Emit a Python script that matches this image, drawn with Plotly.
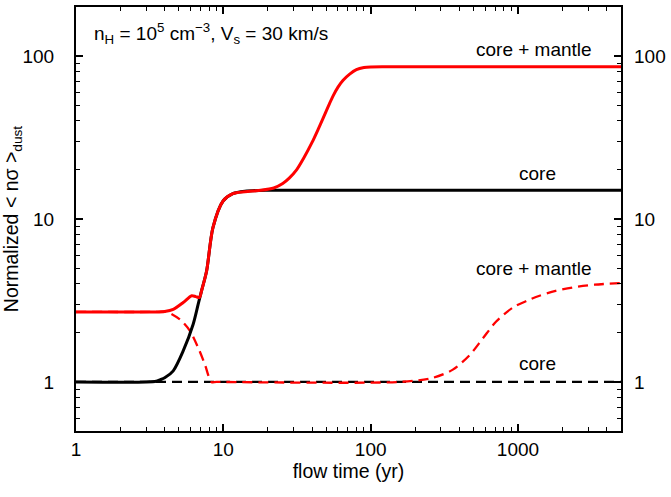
import math
import plotly.graph_objects as go

# ---- data ----
core_solid_t = [1, 3.0, 3.5, 3.71, 4.0, 4.57, 5.34, 6.24, 6.75, 7.1, 7.7, 8.5, 9.96, 11.6, 14, 20, 50, 5000]
core_solid_v = [1.0, 1.0, 1.01, 1.03, 1.06, 1.17, 1.55, 2.26, 3.0, 3.6, 4.8, 8.85, 12.9, 14.3, 14.8, 15.0, 15.0, 15.0]

cm_solid_t = [1, 3.5, 4.0, 4.57, 5.34, 6.1, 6.5, 6.9, 7.1, 7.7, 8.5, 9.96, 11.6, 14, 18, 22, 25.3, 28, 31.4, 35, 40,
              44, 47.5, 52, 55.6, 60, 65, 72, 80, 90, 100, 130, 5000]
cm_solid_v = [2.69, 2.69, 2.71, 2.79, 3.07, 3.38, 3.34, 3.3, 3.6, 4.8, 8.85, 12.9, 14.3, 14.7, 15.0, 15.5, 16.5, 17.8,
              20.0, 23.5, 29.5, 35.5, 41.5, 50.0, 57.0, 64.5, 71.0, 77.5, 82.5, 85.0, 85.8, 86.0, 86.0]

cm_dash_t = [1, 3.5, 4.1, 5.07, 5.93, 6.75, 7.5, 8.3, 9.0, 157, 264, 361, 469, 577, 711, 922, 1150, 1400, 1800,
             2350, 3300, 5000]
cm_dash_v = [2.69, 2.69, 2.70, 2.42, 2.06, 1.62, 1.28, 1.0, 1.0, 1.0, 1.06, 1.19, 1.46, 1.85, 2.35, 2.86, 3.15,
             3.38, 3.62, 3.80, 3.95, 4.05]

core_dash_t = [1, 5000]
core_dash_v = [1.0, 1.0]

major_ticks_x = [1, 10, 100, 1000]
major_labels_x = ["1", "10", "100", "1000"]
major_ticks_y = [1, 10, 100]
major_labels_y = ["1", "10", "100"]

minor_x = [m * 10 ** d for d in range(0, 4) for m in range(2, 10) if m * 10 ** d < 5000]
minor_y = [m * 10 ** d for d in range(-1, 3) for m in range(2, 10) if 0.5 <= m * 10 ** d <= 200]

FONT = "Liberation Sans, Arial, Helvetica, sans-serif"
RED = "#ff0000"
BLACK = "#000000"
DASH = "10px,6px"

fig = go.Figure()
fig.add_trace(go.Scatter(x=core_dash_t, y=core_dash_v, mode="lines",
                         line=dict(color=BLACK, width=2.3, dash=DASH), hoverinfo="skip"))
fig.add_trace(go.Scatter(x=cm_dash_t, y=cm_dash_v, mode="lines",
                         line=dict(color=RED, width=2.3, dash=DASH, shape="spline", smoothing=0.8),
                         hoverinfo="skip"))
fig.add_trace(go.Scatter(x=core_solid_t, y=core_solid_v, mode="lines",
                         line=dict(color=BLACK, width=3, shape="spline", smoothing=0.8), hoverinfo="skip"))
fig.add_trace(go.Scatter(x=cm_solid_t, y=cm_solid_v, mode="lines",
                         line=dict(color=RED, width=3, shape="spline", smoothing=0.8), hoverinfo="skip"))
# invisible trace for right-hand axis labels
fig.add_trace(go.Scatter(x=[1], y=[1], mode="markers", marker=dict(opacity=0), yaxis="y2",
                         hoverinfo="skip"))

yr = [math.log10(0.5), math.log10(200)]

fig.update_layout(
    width=671, height=497,
    margin=dict(l=76, r=48, t=5, b=66),
    plot_bgcolor="white", paper_bgcolor="white",
    showlegend=False,
    font=dict(family=FONT, size=19, color="black"),
    xaxis=dict(
        type="log", range=[0, math.log10(5000)],
        showline=True, linewidth=2, linecolor="black", mirror="ticks",
        ticks="inside", ticklen=7, tickwidth=1.5, tickcolor="black",
        tickvals=major_ticks_x, ticktext=major_labels_x,
        showgrid=False, zeroline=False, ticklabelstandoff=0,
        minor=dict(ticks="inside", ticklen=4, tickwidth=1.2, tickcolor="black",
                   tickvals=minor_x, showgrid=False),
        title=dict(text="flow time (yr)", font=dict(size=19.5), standoff=6),
    ),
    yaxis=dict(
        type="log", range=yr,
        showline=True, linewidth=2, linecolor="black", mirror="ticks",
        ticks="inside", ticklen=7, tickwidth=1.5, tickcolor="black",
        tickvals=major_ticks_y, ticktext=major_labels_y,
        showgrid=False, zeroline=False, ticklabelstandoff=16,
        minor=dict(ticks="inside", ticklen=4, tickwidth=1.2, tickcolor="black",
                   tickvals=minor_y, showgrid=False),
        title=dict(text="Normalized &lt; nσ &gt;<sub>dust</sub>", font=dict(size=19.5), standoff=0),
    ),
    yaxis2=dict(
        type="log", range=yr, overlaying="y", side="right",
        showline=False, ticks="", tickvals=major_ticks_y, ticktext=major_labels_y,
        showgrid=False, zeroline=False, ticklabelstandoff=12,
    ),
)

ann = [
    dict(x=0.029, y=0.937, text="n<sub>H</sub> = 10<sup>5</sup> cm<sup>−3</sup>, V<sub>s</sub> = 30 km/s",
         xanchor="left", yanchor="middle"),
    dict(x=0.841, y=0.899, text="core + mantle", xanchor="center", yanchor="middle"),
    dict(x=0.846, y=0.608, text="core", xanchor="center", yanchor="middle"),
    dict(x=0.841, y=0.383, text="core + mantle", xanchor="center", yanchor="middle"),
    dict(x=0.846, y=0.160, text="core", xanchor="center", yanchor="middle"),
]
for a in ann:
    fig.add_annotation(xref="paper", yref="paper", showarrow=False,
                       font=dict(family=FONT, size=19, color="black"), **a)

fig.write_html("out.html")
